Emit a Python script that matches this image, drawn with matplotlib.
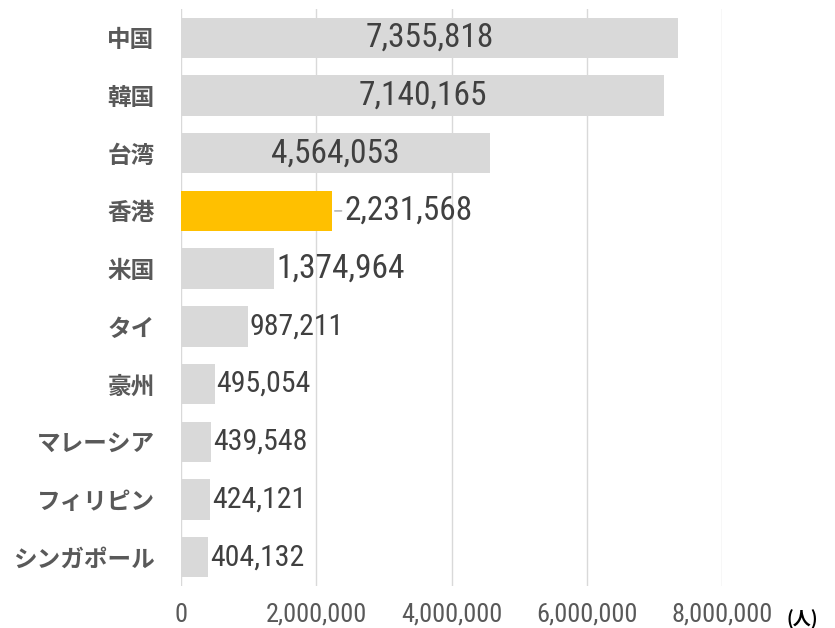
import matplotlib
matplotlib.use('Agg')
import matplotlib.pyplot as plt
from matplotlib import font_manager

# data (visitors, persons)
countries = ['中国', '韓国', '台湾', '香港', '米国', 'タイ', '豪州',
             'マレーシア', 'フィリピン', 'シンガポール']
visitors = [7355818, 7140165, 4564053, 2231568, 1374964, 987211, 495054,
            439548, 424121, 404132]
highlight = '香港'
inside_labels = ['中国', '韓国', '台湾']
x_ticks = [0, 2000000, 4000000, 6000000, 8000000]
unit_label = '(人)'

installed = {f.name for f in font_manager.fontManager.ttflist}
num_font = 'Roboto'
for name in ['Roboto Condensed', 'Liberation Sans Narrow']:
    if name in installed:
        num_font = name
        break
jp_font = 'Noto Sans CJK JP'

fig, ax = plt.subplots(figsize=(8.35, 6.28), dpi=100)
fig.subplots_adjust(left=0.2168, right=0.8647, top=0.9857, bottom=0.0669)

ypos = list(range(len(countries)))
colors = ['#FFC000' if c == highlight else '#D9D9D9' for c in countries]
ax.barh(ypos, visitors, height=0.7, color=colors, zorder=2)

for i, (c, v) in enumerate(zip(countries, visitors)):
    txt = f'{v:,}'
    size = 24 if v > 1000000 else 21.5
    if c in inside_labels:
        ax.text(v / 2, i, txt, ha='center', va='center', fontsize=size,
                family=num_font, color='#404040', zorder=3)
    elif c == highlight:
        ax.annotate(txt, xy=(v, i), xytext=(9, 0), textcoords='offset points',
                    ha='left', va='center', fontsize=size, family=num_font,
                    color='#404040', zorder=3,
                    arrowprops=dict(arrowstyle='-', color='#A6A6A6', lw=1,
                                    shrinkA=0, shrinkB=2))
    else:
        ax.annotate(txt, xy=(v, i), xytext=(1.5, 0), textcoords='offset points',
                    ha='left', va='center', fontsize=size,
                    family=num_font, color='#404040', zorder=3)

ax.set_ylim(len(countries) - 0.5, -0.5)
ax.set_xlim(0, 8000000)
ax.set_yticks(ypos)
ax.set_yticklabels(countries, family=jp_font, fontsize=17, fontweight='bold',
                   color='#595959')
ax.set_xticks(x_ticks)
ax.set_xticklabels([f'{t:,}' for t in x_ticks], family=num_font, fontsize=19,
                   color='#595959')
ax.tick_params(axis='y', length=0, pad=19)
ax.tick_params(axis='x', length=0, pad=12)

for s in ax.spines.values():
    s.set_visible(False)
ax.grid(axis='x', color='#D9D9D9', lw=1, zorder=0)
ax.set_axisbelow(True)

ax.text(1.148, -0.058, unit_label, transform=ax.transAxes, ha='center',
        va='center', fontsize=13, fontweight='bold', family=jp_font,
        color='#000000')

fig.savefig('out.png', dpi=100)
